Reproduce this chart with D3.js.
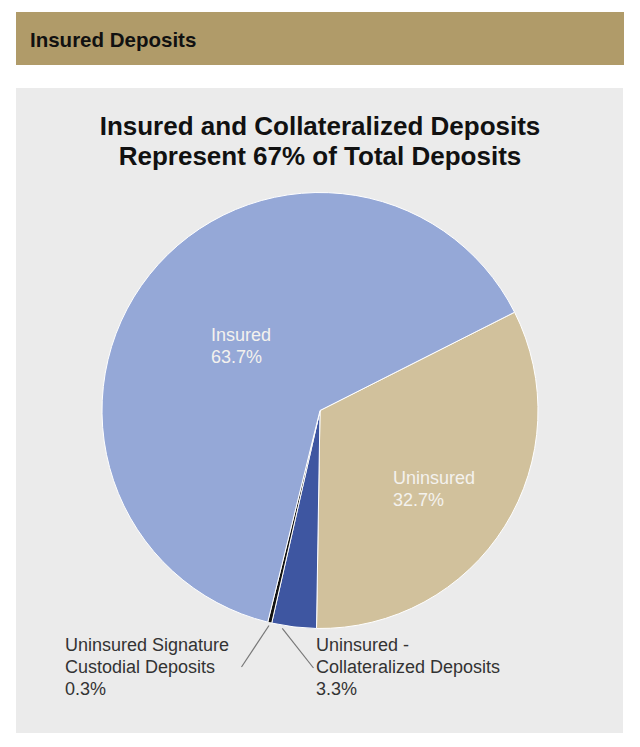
<!DOCTYPE html>
<html><head><meta charset="utf-8">
<script src="https://cdn.jsdelivr.net/npm/d3@7"></script>
<style>body{margin:0;background:#fff;}svg{display:block;}</style>
</head><body>
<svg id="chart" width="640" height="747"></svg>
<script>
const categories = ["Uninsured", "Uninsured - Collateralized Deposits", "Uninsured Signature Custodial Deposits", "Insured"];
const values = [32.7, 3.3, 0.3, 63.7];
const valueLabels = ["32.7%", "3.3%", "0.3%", "63.7%"];
const colors = ["#d1c19c", "#3e56a1", "#111111", "#95a8d7"];
const headerText = "Insured Deposits";
const titleLines = ["Insured and Collateralized Deposits", "Represent 67% of Total Deposits"];

const svg = d3.select("#chart");
const font = "'Liberation Sans', Arial, sans-serif";

svg.append("rect").attr("x",16).attr("y",12).attr("width",608).attr("height",53).attr("fill","#b09b69");
svg.append("text").attr("x",30).attr("y",47).attr("font-family",font).attr("font-weight","bold")
  .attr("font-size",20.5).attr("fill","#111").text(headerText);

svg.append("rect").attr("x",16).attr("y",88).attr("width",607).attr("height",645).attr("fill","#ebebeb");

svg.selectAll(".title").data(titleLines).join("text")
  .attr("x",320).attr("y",(d,i)=>135+i*30).attr("text-anchor","middle")
  .attr("font-family",font).attr("font-weight","bold").attr("font-size",26).attr("fill","#111").text(d=>d);

const cx = 320, cy = 410.5, R = 218;
const startA = 63.2 * Math.PI/180;
const pie = d3.pie().sort(null).value(d=>d).startAngle(startA).endAngle(startA + 2*Math.PI);
const arcs = pie(values);
const arc = d3.arc().innerRadius(0).outerRadius(R);
const g = svg.append("g").attr("transform",`translate(${cx},${cy})`);
g.selectAll("path").data(arcs).join("path")
  .attr("d",arc).attr("fill",(d,i)=>colors[i]).attr("stroke","#fff").attr("stroke-width",1);

// inside labels
const inside = [{i:0, x:393, y:484}, {i:3, x:211, y:341}];
inside.forEach(o=>{
  const t = svg.append("text").attr("font-family",font).attr("font-size",18).attr("fill","#f4f2ee");
  t.append("tspan").attr("x",o.x).attr("y",o.y).text(categories[o.i]);
  t.append("tspan").attr("x",o.x).attr("y",o.y+22).text(valueLabels[o.i]);
});

// outside labels with leader lines
const outside = [
  {i:2, lines:["Uninsured Signature","Custodial Deposits"], x:65, y:651, lx:241.5, ly:667, f:0.5},
  {i:1, lines:["Uninsured -","Collateralized Deposits"], x:316, y:651, lx:313.5, ly:668, f:0.75}
];
outside.forEach(o=>{
  const a = arcs[o.i];
  const m = a.startAngle + (a.endAngle-a.startAngle)*o.f;
  const px = cx + Math.sin(m)*(R+3), py = cy - Math.cos(m)*(R+3);
  svg.append("line").attr("x1",px).attr("y1",py).attr("x2",o.lx).attr("y2",o.ly)
    .attr("stroke","#777").attr("stroke-width",1.2);
  const t = svg.append("text").attr("font-family",font).attr("font-size",18).attr("fill","#333");
  o.lines.concat([valueLabels[o.i]]).forEach((l,k)=>t.append("tspan").attr("x",o.x).attr("y",o.y+k*22).text(l));
});
</script>
</body></html>
